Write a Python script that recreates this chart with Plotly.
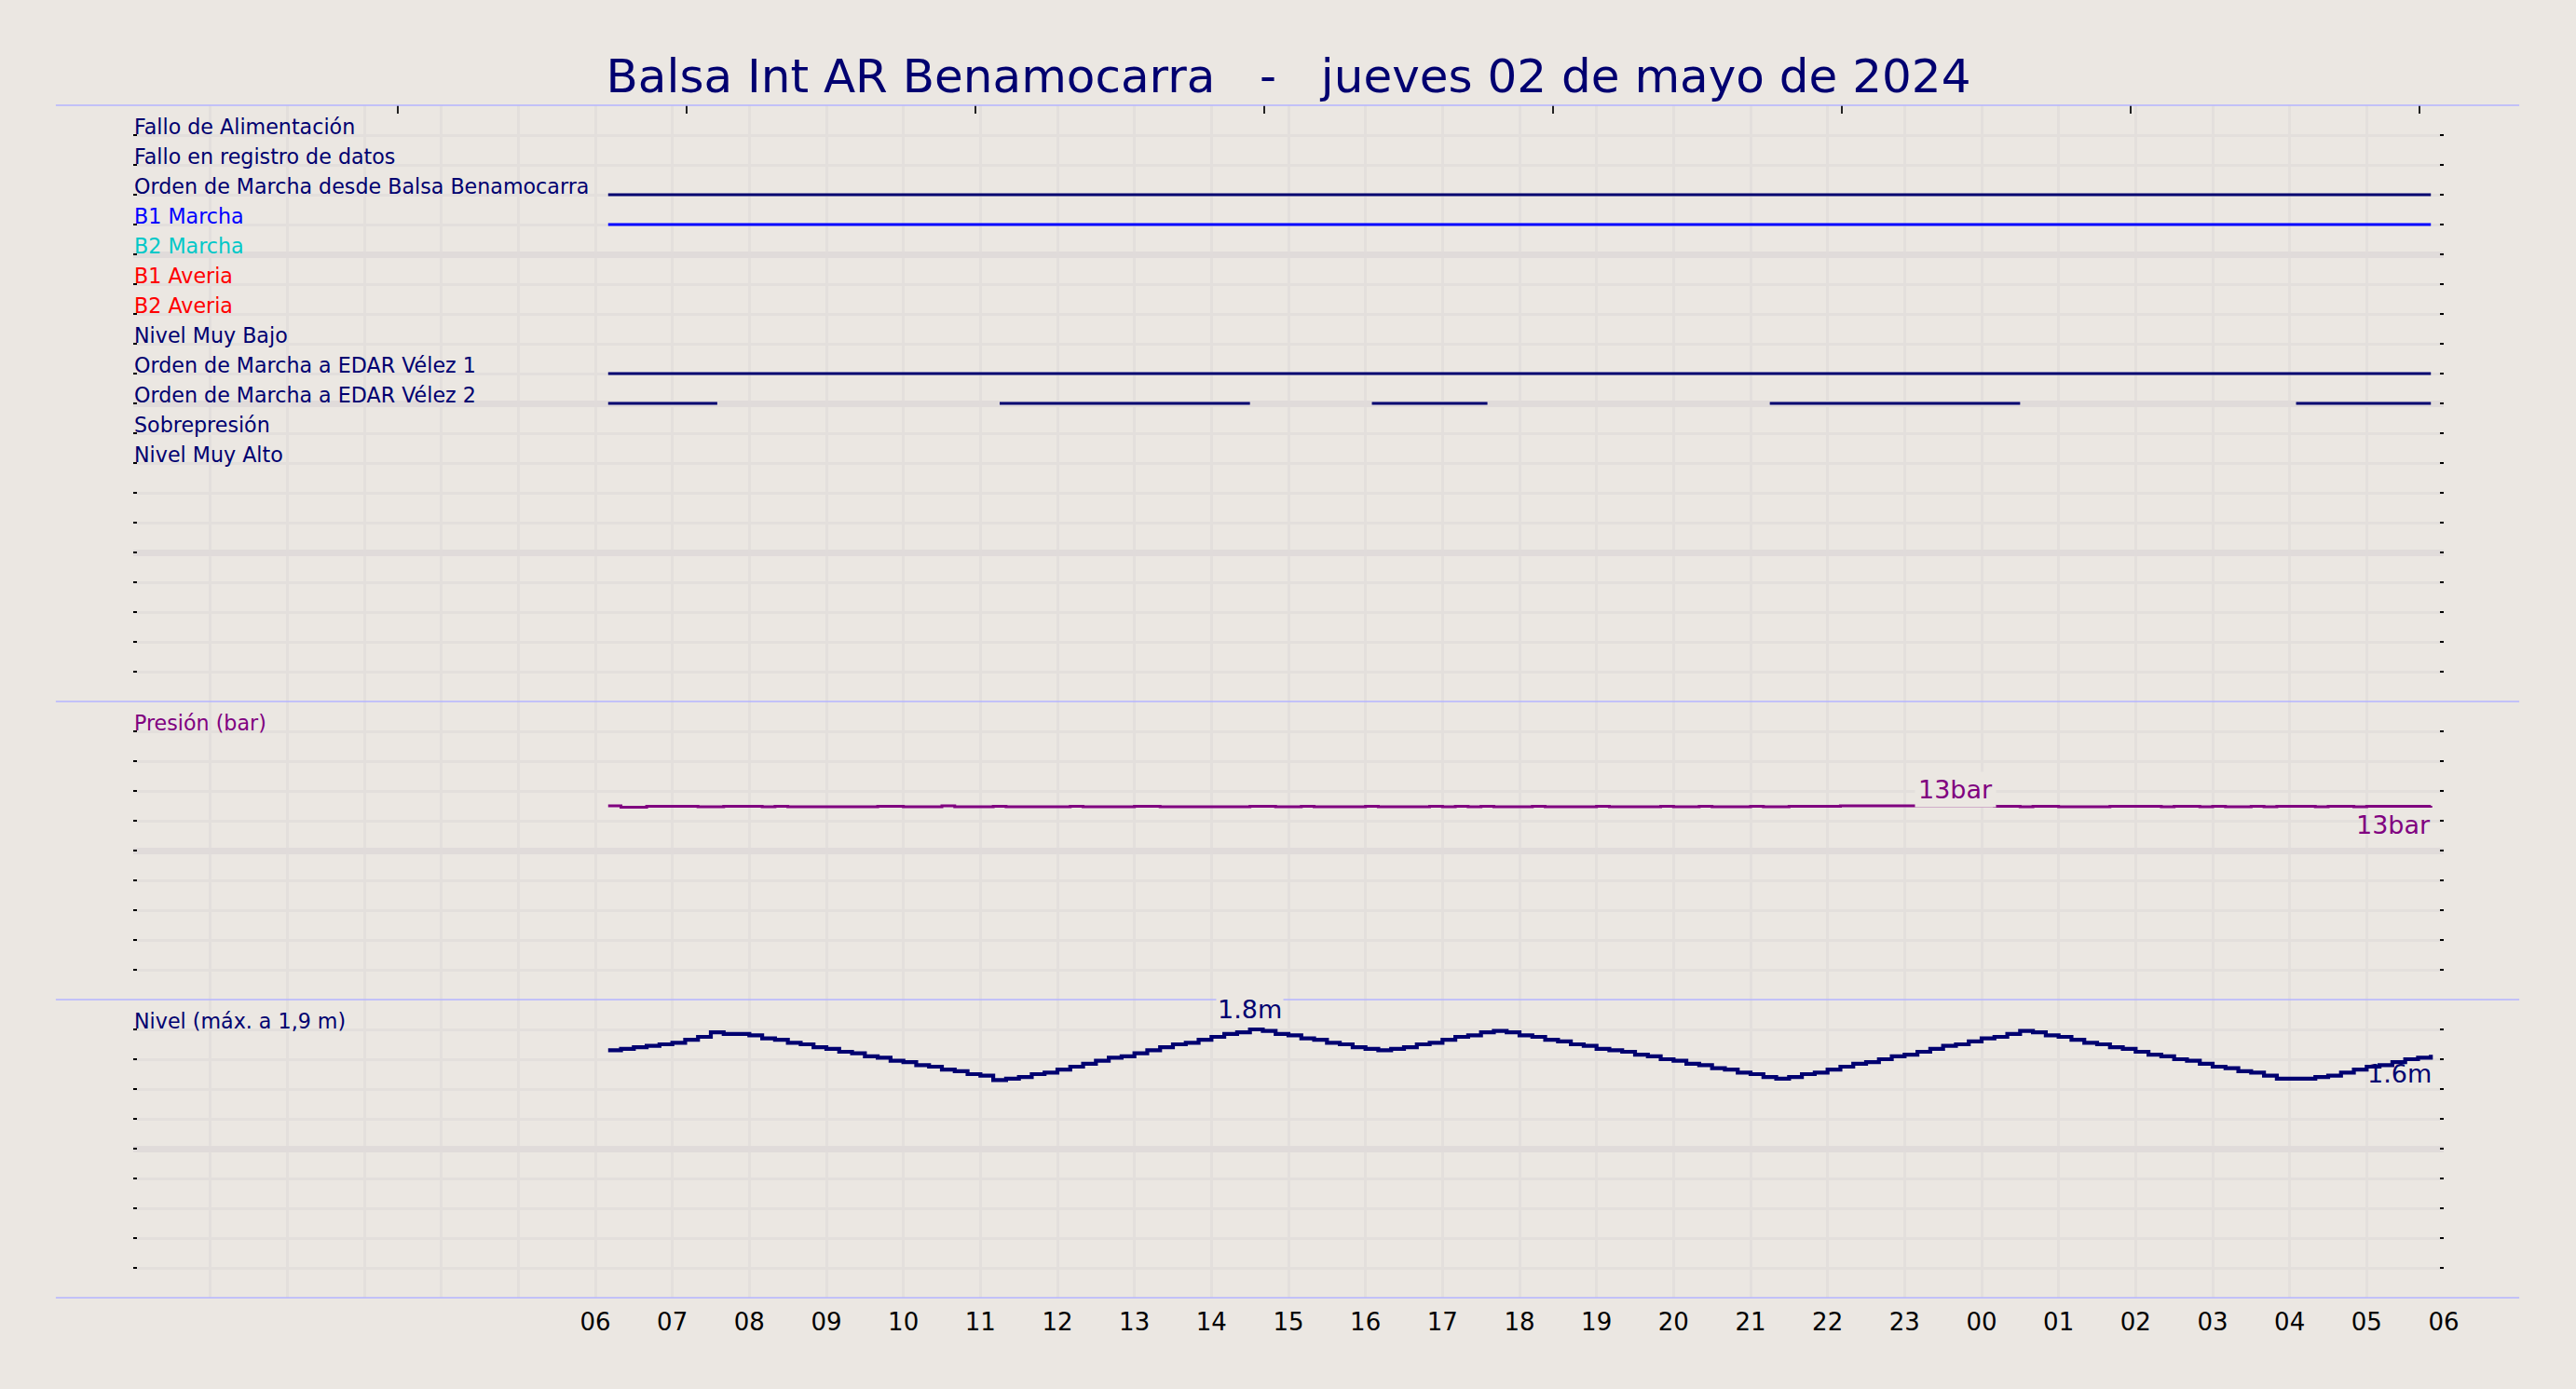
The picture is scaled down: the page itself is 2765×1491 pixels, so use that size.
import pandas as pd
import plotly.graph_objects as go
from plotly.subplots import make_subplots

# ---------------- data ----------------
TITLE = "Balsa Int AR Benamocarra   -   jueves 02 de mayo de 2024"

signal_names = [
    "Fallo de Alimentación",
    "Fallo en registro de datos",
    "Orden de Marcha desde Balsa Benamocarra",
    "B1 Marcha",
    "B2 Marcha",
    "B1 Averia",
    "B2 Averia",
    "Nivel Muy Bajo",
    "Orden de Marcha a EDAR Vélez 1",
    "Orden de Marcha a EDAR Vélez 2",
    "Sobrepresión",
    "Nivel Muy Alto",
]
signal_label_colors = ["#000070", "#000070", "#000070", "#0000ff", "#00c8c8", "#ff0000",
                       "#ff0000", "#000070", "#000070", "#000070", "#000070", "#000070"]
signal_line_colors = ["#000070", "#000070", "#000070", "#0000ff", "#00c8c8", "#ff0000",
                      "#ff0000", "#000070", "#000070", "#000070", "#000070", "#000070"]
signal_on_intervals = [
    [],
    [],
    [("2024-05-02 06:10", "2024-05-03 05:50")],
    [("2024-05-02 06:10", "2024-05-03 05:50")],
    [],
    [],
    [],
    [],
    [("2024-05-02 06:10", "2024-05-03 05:50")],
    [("2024-05-02 06:10", "2024-05-02 07:35"),
     ("2024-05-02 11:15", "2024-05-02 14:30"),
     ("2024-05-02 16:05", "2024-05-02 17:35"),
     ("2024-05-02 21:15", "2024-05-03 00:30"),
     ("2024-05-03 04:05", "2024-05-03 05:50")],
    [],
    [],
]

series_start = "2024-05-02 06:10"
series_step = "10min"

pressure_bar = [
    13.00, 12.90, 12.90, 12.97, 12.97,
    12.97, 12.97, 12.94, 12.94, 12.97, 12.97,
    12.97, 12.94, 12.97, 12.94, 12.94, 12.94,
    12.94, 12.94, 12.94, 12.94, 12.97, 12.97,
    12.94, 12.94, 12.94, 13.00, 12.94, 12.94,
    12.94, 12.97, 12.94, 12.94, 12.94, 12.94,
    12.94, 12.97, 12.94, 12.94, 12.94, 12.94,
    12.97, 12.97, 12.94, 12.94, 12.94, 12.94,
    12.94, 12.94, 12.94, 12.97, 12.97, 12.94,
    12.94, 12.97, 12.94, 12.94, 12.94, 12.94,
    12.97, 12.94, 12.94, 12.94, 12.94, 12.97,
    12.94, 12.97, 12.94, 12.97, 12.94, 12.94,
    12.94, 12.97, 12.94, 12.94, 12.94, 12.94,
    12.97, 12.94, 12.94, 12.94, 12.94, 12.97,
    12.94, 12.94, 12.97, 12.94, 12.94, 12.94,
    12.97, 12.94, 12.94, 12.97, 12.97, 12.97,
    12.97, 13.00, 13.00, 13.00, 13.00, 13.00,
    13.00, 13.00, 13.00, 13.00, 13.00, 13.00,
    13.00, 12.97, 12.97, 12.94, 12.97, 12.97,
    12.94, 12.94, 12.94, 12.94, 12.97, 12.97,
    12.97, 12.97, 12.94, 12.97, 12.97, 12.94,
    12.97, 12.94, 12.94, 12.97, 12.94, 12.97,
    12.97, 12.97, 12.94, 12.97, 12.97, 12.94,
    12.97, 12.97, 12.97, 12.97, 12.97, 13.00,
]

level_m = [
    1.66, 1.67, 1.68, 1.69, 1.70, 1.71, 1.73, 1.75, 1.78, 1.77, 1.77,
    1.76, 1.74, 1.73, 1.71, 1.70, 1.68, 1.67, 1.65, 1.64, 1.62, 1.61,
    1.59, 1.58, 1.56, 1.55, 1.53, 1.52, 1.50, 1.49, 1.46, 1.47,
    1.48, 1.50, 1.51, 1.53, 1.55, 1.57, 1.59, 1.61, 1.62, 1.64,
    1.66, 1.68, 1.70, 1.71, 1.73, 1.75, 1.77, 1.78, 1.80,
    1.79, 1.77, 1.76, 1.74, 1.73, 1.71, 1.70, 1.68, 1.67, 1.66,
    1.67, 1.68, 1.70, 1.71, 1.73, 1.75, 1.76, 1.78, 1.79,
    1.78, 1.76, 1.75, 1.73, 1.72, 1.70, 1.69, 1.67, 1.66, 1.65, 1.63,
    1.62, 1.60, 1.59, 1.57, 1.56, 1.54, 1.53, 1.51, 1.50, 1.48, 1.47,
    1.48, 1.50, 1.51, 1.53, 1.55, 1.57, 1.58, 1.60, 1.62, 1.63,
    1.65, 1.67, 1.69, 1.70, 1.72, 1.74, 1.75, 1.77, 1.79,
    1.78, 1.76, 1.75, 1.73, 1.71, 1.70, 1.68, 1.67, 1.65, 1.63, 1.62,
    1.60, 1.59, 1.57, 1.55, 1.54, 1.52, 1.51, 1.49, 1.47, 1.47, 1.47,
    1.48, 1.49, 1.51, 1.53, 1.55, 1.56, 1.58, 1.60, 1.61, 1.63,
]

pressure_label_time = "2024-05-02 23:40"

x_range = ["2024-05-02 00:00", "2024-05-03 06:00"]
hour_label_start = "2024-05-02 06:00"
hour_label_end = "2024-05-03 06:00"
day_start_marker = "2024-05-02 06:00"
top_tick_hours = [3.44, 7.19, 10.94, 14.69, 18.44, 22.19, 25.94, 29.69]

panel_signal_range = [20, 0]
panel_pressure_range = [0, 20]
panel_level_range = [0, 2]

# ---------------- style ----------------
FONT = "DejaVu Sans"
BG = "#ebe7e2"
GRID_MINOR = "#e3dfdc"
GRID_MAJOR = "#e0dbda"
SEP = "#b4b4ff"
NAVY = "#000070"
PURPLE = "#800080"

times = pd.date_range(series_start, periods=len(level_m), freq=series_step)
hour_ticks = pd.date_range(hour_label_start, hour_label_end, freq="h")

fig = make_subplots(rows=3, cols=1, shared_xaxes=True, vertical_spacing=0,
                    row_heights=[0.5, 0.25, 0.25])

# digital signals
for i, (name, ivals) in enumerate(zip(signal_names, signal_on_intervals)):
    if not ivals:
        continue
    xs, ys = [], []
    for s, e in ivals:
        xs += [s, e, None]
        ys += [i + 1, i + 1, None]
    fig.add_trace(go.Scatter(x=xs, y=ys, mode="lines",
                             line=dict(color=signal_line_colors[i], width=3),
                             showlegend=False, hoverinfo="skip"), row=1, col=1)

fig.add_trace(go.Scatter(x=times, y=pressure_bar, mode="lines", line_shape="hv",
                         line=dict(color=PURPLE, width=3), showlegend=False),
              row=2, col=1)
fig.add_trace(go.Scatter(x=times, y=level_m, mode="lines", line_shape="hv",
                         line=dict(color=NAVY, width=4.2), showlegend=False),
              row=3, col=1)

# dummy trace for top tick axis
fig.add_trace(go.Scatter(x=[0, 30], y=[0, 0], xaxis="x4", yaxis="y", mode="lines",
                         line=dict(width=0), opacity=0, showlegend=False,
                         hoverinfo="skip"))

tick_common = dict(ticks="inside", ticklen=4, tickwidth=1.5, tickcolor="black")

def yaxis_cfg(rng, major, minor):
    return dict(range=rng, autorange=False, tick0=0, dtick=major, showgrid=True,
                gridcolor=GRID_MAJOR, gridwidth=7, zeroline=False,
                showticklabels=False, mirror="ticks", showline=False,
                minor=dict(tick0=0, dtick=minor, showgrid=True, gridcolor=GRID_MINOR,
                           gridwidth=3, **tick_common),
                **tick_common)

fig.update_yaxes(**yaxis_cfg(panel_signal_range, 5, 1), row=1, col=1)
fig.update_yaxes(**yaxis_cfg(panel_pressure_range, 10, 2), row=2, col=1)
fig.update_yaxes(**yaxis_cfg(panel_level_range, 1, 0.2), row=3, col=1)

fig.update_xaxes(type="date", range=x_range, showgrid=True, gridcolor=GRID_MINOR,
                 gridwidth=3, tickmode="array", tickvals=hour_ticks, tickformat="%H",
                 ticks="", zeroline=False, showline=False, showticklabels=False,
                 minor=dict(tick0=x_range[0], dtick=3600000, showgrid=True,
                            gridcolor=GRID_MINOR, gridwidth=3))
fig.update_xaxes(showticklabels=True, ticklabelstandoff=8,
                 tickfont=dict(size=26, color="black", family=FONT), row=3, col=1)

fig.update_layout(xaxis4=dict(overlaying="x", anchor="y", side="top", range=[0, 30],
                              tickmode="array", tickvals=top_tick_hours, ticks="inside",
                              ticklen=9, tickwidth=1.5, tickcolor="#222222",
                              showticklabels=False, showgrid=False, zeroline=False,
                              showline=False))

annotations = []
for i, name in enumerate(signal_names):
    annotations.append(dict(text=name, xref="paper", x=0, xanchor="left",
                            yref="y", y=i + 1, yanchor="bottom", yshift=-5,
                            showarrow=False, borderpad=0,
                            font=dict(size=22.2, color=signal_label_colors[i], family=FONT)))
annotations.append(dict(text="Presión (bar)", xref="paper", x=0, xanchor="left",
                        yref="y2", y=panel_pressure_range[1] - 2, yanchor="bottom", yshift=-5,
                        showarrow=False, borderpad=0,
                        font=dict(size=22.2, color=PURPLE, family=FONT)))
annotations.append(dict(text="Nivel (máx. a 1,9 m)", xref="paper", x=0, xanchor="left",
                        yref="y3", y=panel_level_range[1] - 0.2, yanchor="bottom", yshift=-5,
                        showarrow=False, borderpad=0,
                        font=dict(size=22.2, color=NAVY, family=FONT)))

p_idx = list(times).index(pd.Timestamp(pressure_label_time))
annotations.append(dict(text=f"{round(pressure_bar[p_idx])}bar", xref="x2", x=times[p_idx],
                        yref="y2", y=pressure_bar[p_idx], xanchor="center",
                        yanchor="bottom", yshift=-2, showarrow=False, bgcolor=BG,
                        borderpad=3, font=dict(size=27, color=PURPLE, family=FONT)))
annotations.append(dict(text=f"{round(pressure_bar[-1])}bar", xref="x2", x=times[-1],
                        yref="y2", y=pressure_bar[-1], xanchor="right",
                        yanchor="top", yshift=-3, xshift=2, showarrow=False,
                        font=dict(size=27, color=PURPLE, family=FONT)))
l_idx = level_m.index(max(level_m))
annotations.append(dict(text=f"{level_m[l_idx]:.1f}m", xref="x3", x=times[l_idx],
                        yref="y3", y=level_m[l_idx], xanchor="center",
                        yanchor="bottom", yshift=4, showarrow=False, bgcolor=BG,
                        borderpad=1, font=dict(size=27, color=NAVY, family=FONT)))
annotations.append(dict(text=f"{level_m[-1]:.1f}m", xref="x3", x=times[-1],
                        yref="y3", y=level_m[-1], xanchor="right",
                        yanchor="top", yshift=-3, xshift=3, showarrow=False,
                        font=dict(size=27, color=NAVY, family=FONT)))

shapes = []
for yy in [0, 0.25, 0.5, 1.0]:
    shapes.append(dict(type="line", xref="paper", yref="paper", x0=-0.0335, x1=1.0327,
                       y0=yy, y1=yy, line=dict(color=SEP, width=1.5), layer="above"))
shapes.append(dict(type="line", xref="x3", yref="paper", x0=day_start_marker,
                   x1=day_start_marker, y0=0, y1=1, line=dict(color=SEP, width=1.5),
                   layer="between"))

fig.update_layout(
    width=2765, height=1491, autosize=False,
    margin=dict(l=143, r=142, t=113, b=98),
    paper_bgcolor=BG, plot_bgcolor=BG,
    font=dict(family=FONT, color="black"),
    title=dict(text=TITLE, x=0.5, xanchor="center", xref="paper", y=1 - 81 / 1491,
               yanchor="middle", yref="container",
               font=dict(size=50, color=NAVY, family=FONT)),
    showlegend=False,
    annotations=annotations,
    shapes=shapes,
)

fig.write_html("out.html", config={"displayModeBar": False},
               post_script="document.body.style.margin='0';document.body.style.overflow='hidden';")
